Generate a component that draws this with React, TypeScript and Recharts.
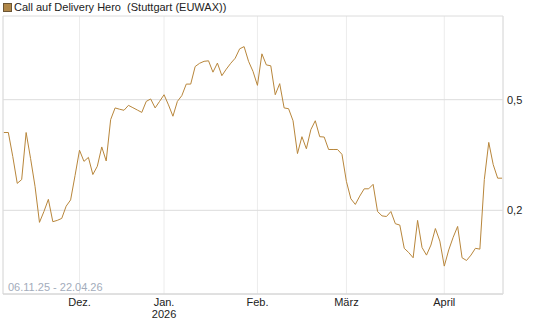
import React from 'react';
import { LineChart, Line, XAxis, YAxis, CartesianGrid, ReferenceLine } from 'recharts';

// one value per trading day, 06.11.25 .. 22.04.26
const values = [
  0.381, 0.381, 0.312, 0.25, 0.258, 0.381, 0.307, 0.244, 0.181, 0.198,
  0.219, 0.182, 0.184, 0.187, 0.207, 0.218, 0.267, 0.329, 0.3, 0.31,
  0.269, 0.288, 0.338, 0.301, 0.424, 0.467, 0.462, 0.458, 0.477, 0.468,
  0.459, 0.45, 0.493, 0.503, 0.467, 0.493, 0.521, 0.479, 0.436, 0.493,
  0.517, 0.569, 0.569, 0.658, 0.676, 0.687, 0.69, 0.628, 0.677, 0.61,
  0.644, 0.676, 0.705, 0.762, 0.776, 0.687, 0.632, 0.563, 0.731, 0.667,
  0.662, 0.521, 0.571, 0.467, 0.464, 0.42, 0.32, 0.368, 0.333, 0.39,
  0.42, 0.368, 0.367, 0.331, 0.331, 0.331, 0.318, 0.254, 0.22, 0.21,
  0.225, 0.239, 0.239, 0.248, 0.198, 0.191, 0.19, 0.198, 0.179, 0.177,
  0.146, 0.141, 0.135, 0.184, 0.147, 0.138, 0.15, 0.172, 0.155, 0.126,
  0.144, 0.16, 0.175, 0.135, 0.132, 0.138, 0.146, 0.145, 0.258, 0.351,
  0.292, 0.261, 0.261,
];

// index of the first trading day of each month
const monthTicks = [17, 36, 57, 77, 99];
const monthLabels = ['Dez.', 'Jan.', 'Feb.', 'März', 'April'];
const yearLabels = ['', '2026', '', '', ''];
const yTicks = [0.2, 0.5];

const title = 'Call auf Delivery Hero  (Stuttgart (EUWAX))';
const rangeLabel = '06.11.25 - 22.04.26';

const data = values.map((v, i) => ({ i, v }));

const LINE = '#b8863b';
const FONT = '"Liberation Sans", Arial, sans-serif';

const MonthTick = (props: any) => {
  const { x, y, payload } = props;
  const k = monthTicks.indexOf(payload.value);
  return (
    <text x={x} y={y} textAnchor="middle" fontSize={11} fill="#222" fontFamily={FONT}>
      <tspan x={x} dy={12}>{monthLabels[k]}</tspan>
      {yearLabels[k] && <tspan x={x} dy={12}>{yearLabels[k]}</tspan>}
    </text>
  );
};

export default function App() {
  return (
    <div style={{ position: 'absolute', left: 0, top: 0, width: 545, height: 327, fontFamily: FONT }}>
      <div style={{ position: 'absolute', left: 3, top: 3, width: 7, height: 7, background: '#b08748', border: '1px solid #6b5535' }} />
      <div style={{ position: 'absolute', left: 14, top: 0, fontSize: 11, lineHeight: '14px', color: '#222', whiteSpace: 'pre' }}>
        {title}
      </div>
      <LineChart width={545} height={327} data={data} margin={{ top: 16, right: 0, bottom: 0, left: 3 }}>
        <CartesianGrid horizontal={false} stroke="#ececec" />
        <CartesianGrid vertical={false} stroke="#dcdcdc" />
        <ReferenceLine x={-0.2} stroke="#dcdcdc" />
        <XAxis
          dataKey="i"
          type="number"
          domain={[-0.2, 112.2]}
          ticks={monthTicks}
          tick={<MonthTick />}
          tickLine={false}
          tickSize={0}
          tickMargin={0}
          height={33}
          axisLine={{ stroke: '#d4d4d4' }}
        />
        <YAxis
          orientation="right"
          scale="log"
          domain={[0.1, 1]}
          allowDataOverflow
          ticks={yTicks}
          tickFormatter={(t: number) => String(t).replace('.', ',')}
          tick={{ fontSize: 11, fill: '#222', fontFamily: FONT }}
          tickLine={false}
          tickSize={0}
          tickMargin={4}
          width={42}
          axisLine={{ stroke: '#dcdcdc' }}
        />
        <Line type="linear" dataKey="v" stroke={LINE} strokeWidth={1} dot={false} isAnimationActive={false} />
      </LineChart>
      <div style={{ position: 'absolute', left: 8, top: 280, fontSize: 11, lineHeight: '14px', color: '#a3acbb' }}>
        {rangeLabel}
      </div>
    </div>
  );
}
